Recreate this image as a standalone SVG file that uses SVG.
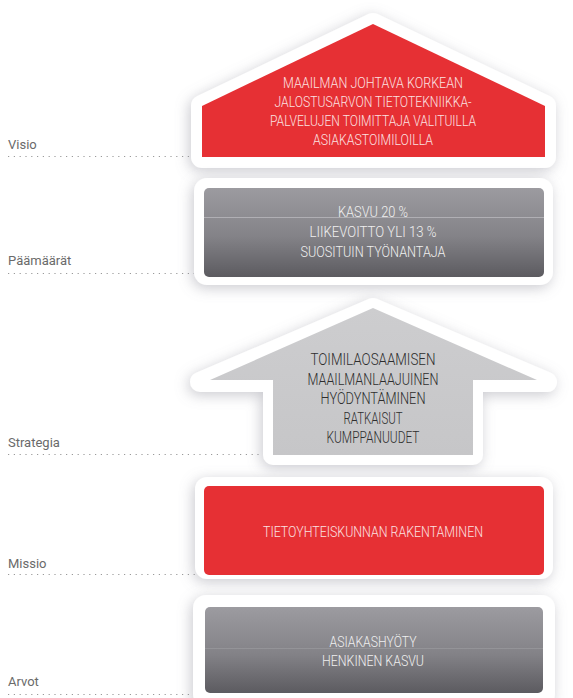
<svg xmlns="http://www.w3.org/2000/svg" width="573" height="698" viewBox="0 0 573 698">
<defs>
<filter id="sh" x="-20%" y="-20%" width="140%" height="140%">
<feGaussianBlur in="SourceAlpha" stdDeviation="7"/>
<feOffset dx="-2" dy="3" result="b"/>
<feFlood flood-color="#8a8a96" flood-opacity="0.45"/>
<feComposite in2="b" operator="in"/>
<feMerge><feMergeNode/><feMergeNode in="SourceGraphic"/></feMerge>
</filter>
<linearGradient id="gg" x1="0" y1="0" x2="0" y2="1">
<stop offset="0" stop-color="#9c9ba0"/>
<stop offset="0.55" stop-color="#838287"/>
<stop offset="1" stop-color="#5c5b60"/>
</linearGradient>
<linearGradient id="lg" x1="0" y1="0" x2="0" y2="1">
<stop offset="0" stop-color="#cdcdcf"/>
<stop offset="1" stop-color="#c6c6c8"/>
</linearGradient>
</defs>
<style>
.lbl{font-family:Roboto,"Liberation Sans",sans-serif;font-size:13px;fill:#6a6a6a}
.dots{stroke:#9a9a9a;stroke-width:1.2;stroke-dasharray:1.2 4.6;fill:none}
.w{fill:#fff;stroke:#fff;stroke-linejoin:round}
.t{font-family:Roboto,"Liberation Sans",sans-serif;font-weight:300;text-anchor:middle}
.tr{fill:#fbe2e2;font-size:14.5px}
.tg{fill:#f0f0f0;font-size:14.5px}
.ts{fill:#2e2e2e;font-size:16px}
.red{fill:#e63034}
</style>
<rect width="573" height="698" fill="#fff"/>

<g id="labels">
<text class="lbl" x="8" y="149">Visio</text>
<line class="dots" x1="8" y1="156.5" x2="190" y2="156.5"/>
<text class="lbl" x="8" y="265">Päämäärät</text>
<line class="dots" x1="8" y1="273.5" x2="194" y2="273.5"/>
<text class="lbl" x="8" y="447">Strategia</text>
<line class="dots" x1="8" y1="454.5" x2="262" y2="454.5"/>
<text class="lbl" x="8" y="568">Missio</text>
<line class="dots" x1="8" y1="574.5" x2="195" y2="574.5"/>
<text class="lbl" x="8" y="686">Arvot</text>
<line class="dots" x1="8" y1="694.5" x2="192" y2="694.5"/>
</g>

<g id="visio">
<path class="w" filter="url(#sh)" stroke-width="22" d="M373,24 L545,106 L545,157 L202,157 L202,106 Z"/>
<path class="red" d="M373,24 L545,106 L545,157 L202,157 L202,106 Z"/>
<text class="t tr" x="373" y="88" textLength="180" lengthAdjust="spacingAndGlyphs">MAAILMAN JOHTAVA KORKEAN</text>
<text class="t tr" x="373" y="107" textLength="197" lengthAdjust="spacingAndGlyphs">JALOSTUSARVON TIETOTEKNIIKKA-</text>
<text class="t tr" x="373" y="126" textLength="206" lengthAdjust="spacingAndGlyphs">PALVELUJEN TOIMITTAJA VALITUILLA</text>
<text class="t tr" x="373" y="145" textLength="120" lengthAdjust="spacingAndGlyphs">ASIAKASTOIMILOILLA</text>
</g>

<g id="paamaarat">
<rect x="194" y="178" width="359" height="107" rx="13" fill="#fff" filter="url(#sh)"/>
<rect x="204" y="188" width="340" height="89" rx="5" fill="url(#gg)"/>
<line x1="204" y1="217.5" x2="544" y2="217.5" stroke="#c4c4c8" stroke-width="0.8" opacity="0.8"/>
<text class="t tg" x="373" y="217" textLength="70" lengthAdjust="spacingAndGlyphs">KASVU 20 %</text>
<text class="t tg" x="373" y="237" textLength="127" lengthAdjust="spacingAndGlyphs">LIIKEVOITTO YLI 13 %</text>
<text class="t tg" x="373" y="257" textLength="145" lengthAdjust="spacingAndGlyphs">SUOSITUIN TYÖNANTAJA</text>
</g>

<g id="strategia">
<path class="w" filter="url(#sh)" stroke-width="20" d="M373,308 L547,382 L473,382 L473,455 L273,455 L273,382 L200,382 Z"/>
<path fill="url(#lg)" d="M373,308 L537,380 L473,380 L473,455 L273,455 L273,380 L210,380 Z"/>
<text class="t ts" x="373" y="365" textLength="125" lengthAdjust="spacingAndGlyphs">TOIMILAOSAAMISEN</text>
<text class="t ts" x="373" y="385" textLength="131" lengthAdjust="spacingAndGlyphs">MAAILMANLAAJUINEN</text>
<text class="t ts" x="373" y="404" textLength="105" lengthAdjust="spacingAndGlyphs">HYÖDYNTÄMINEN</text>
<text class="t ts" x="373" y="424" textLength="59" lengthAdjust="spacingAndGlyphs">RATKAISUT</text>
<text class="t ts" x="373" y="443" textLength="93" lengthAdjust="spacingAndGlyphs">KUMPPANUUDET</text>
</g>

<g id="missio">
<rect x="195" y="477" width="358" height="102" rx="12" fill="#fff" filter="url(#sh)"/>
<rect class="red" x="204" y="486" width="340" height="89" rx="5"/>
<text class="t tr" x="373" y="537" font-size="16" textLength="220" lengthAdjust="spacingAndGlyphs">TIETOYHTEISKUNNAN RAKENTAMINEN</text>
</g>

<g id="arvot">
<rect x="193" y="595" width="362" height="112" rx="13" fill="#fff" filter="url(#sh)"/>
<rect x="205" y="607" width="338" height="86" rx="5" fill="url(#gg)"/>
<line x1="205" y1="648.5" x2="543" y2="648.5" stroke="#a9a9ad" stroke-width="0.8" opacity="0.5"/>
<text class="t tg" x="373" y="647" font-size="16" textLength="87" lengthAdjust="spacingAndGlyphs">ASIAKASHYÖTY</text>
<text class="t tg" x="373" y="666" font-size="16" textLength="102" lengthAdjust="spacingAndGlyphs">HENKINEN KASVU</text>
</g>

<g id="connectors"></g>
</svg>
